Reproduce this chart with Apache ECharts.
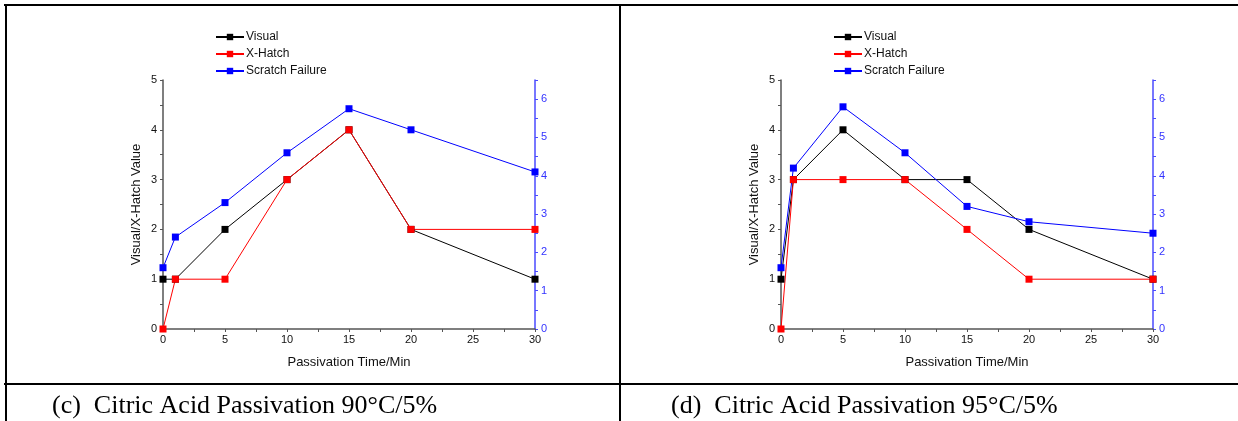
<!DOCTYPE html>
<html>
<head>
<meta charset="utf-8">
<script src="https://cdn.jsdelivr.net/npm/echarts@6/dist/echarts.min.js"></script>
<style>
  html, body { margin: 0; padding: 0; background: #fff; }
  #main { width: 1238px; height: 421px; }
</style>
</head>
<body>
<div id="main"></div>
<script>
// passivation time (min), shared by both panels
const times = [0, 1, 5, 10, 15, 20, 30];

// (c) 90°C/5%
const visualC = [1, 1, 2, 3, 4, 2, 1];
const hatchC = [0, 1, 1, 3, 4, 2, 2];
const scratchC = [1.6, 2.4, 3.3, 4.6, 5.75, 5.2, 4.1];

// (d) 95°C/5%
const visualD = [1, 3, 4, 3, 3, 2, 1];
const hatchD = [0, 3, 3, 3, 2, 1, 1];
const scratchD = [1.6, 4.2, 5.8, 4.6, 3.2, 2.8, 2.5];

const captions = ['(c)  Citric Acid Passivation 90°C/5%', '(d)  Citric Acid Passivation 95°C/5%'];
const seriesNames = ['Visual', 'X-Hatch', 'Scratch Failure'];

const sans = 'Liberation Sans';
const pairs = (ys) => times.map((t, i) => [t, ys[i]]);

const chart = echarts.init(document.getElementById('main'));

// one panel = grid + x axis + two y axes + legend
const panels = [
  { left: 163, data: [visualC, hatchC, scratchC] },
  { left: 781, data: [visualD, hatchD, scratchD] }
];

const grids = [], xAxes = [], yAxes = [], series = [], legends = [], titles = [];

panels.forEach((p, k) => {
  grids.push({ left: p.left, width: 372, top: 80, height: 249 });
  xAxes.push({
    type: 'value', gridIndex: k, min: 0, max: 30, interval: 2.5,
    name: 'Passivation Time/Min', nameLocation: 'middle', nameGap: 27,
    nameTextStyle: { fontFamily: sans, fontSize: 13, color: '#111' },
    axisLine: { onZero: false, lineStyle: { color: '#555', width: 1.5 } },
    axisTick: { inside: false, length: 3, lineStyle: { color: '#555' } },
    axisLabel: {
      fontFamily: sans, fontSize: 11, color: '#111', margin: 5,
      formatter: v => (v % 5 === 0 ? String(v) : '')
    },
    splitLine: { show: false }
  });
  yAxes.push({
    type: 'value', gridIndex: k, position: 'left', min: 0, max: 5, interval: 0.5,
    name: 'Visual/X-Hatch Value', nameLocation: 'middle', nameGap: 20,
    nameTextStyle: { fontFamily: sans, fontSize: 13, color: '#111' },
    axisLine: { show: true, lineStyle: { color: '#555', width: 1.5 } },
    axisTick: { show: true, length: 3, lineStyle: { color: '#555' } },
    axisLabel: {
      fontFamily: sans, fontSize: 11, color: '#111', margin: 6,
      formatter: v => (v % 1 === 0 ? String(v) : '')
    },
    splitLine: { show: false }
  });
  yAxes.push({
    type: 'value', gridIndex: k, position: 'right', min: 0, max: 6.5, interval: 0.5,
    axisLine: { show: true, lineStyle: { color: '#4a4aff', width: 1.5 } },
    axisTick: { show: true, length: 3, lineStyle: { color: '#4a4aff' } },
    axisLabel: {
      fontFamily: sans, fontSize: 11, color: '#3333ff', margin: 6,
      formatter: v => (v % 1 === 0 ? String(v) : '')
    },
    splitLine: { show: false }
  });

  const colors = ['#000000', '#ff0000', '#0000ff'];
  p.data.forEach((ys, j) => {
    series.push({
      name: seriesNames[j], type: 'line',
      xAxisIndex: k, yAxisIndex: j === 2 ? k * 2 + 1 : k * 2,
      data: pairs(ys),
      symbol: 'rect', symbolSize: 7, showAllSymbol: true,
      lineStyle: { color: colors[j], width: 1 },
      itemStyle: { color: colors[j] },
      emphasis: { disabled: true },
      animation: false
    });
  });

  legends.push({
    orient: 'vertical', left: p.left + 47, top: 26,
    itemWidth: 28, itemHeight: 8, itemGap: 5,
    data: seriesNames.map(n => ({ name: n })),
    textStyle: { fontFamily: sans, fontSize: 12, color: '#111', padding: [0, 0, 0, -3] },
    selectedMode: false
  });

  titles.push({
    text: captions[k], left: k === 0 ? 47 : 666, top: 388,
    textStyle: { fontFamily: 'Liberation Serif', fontSize: 26, fontWeight: 'normal', color: '#000' }
  });
});

chart.setOption({
  animation: false,
  title: titles,
  grid: grids,
  xAxis: xAxes,
  yAxis: yAxes,
  legend: legends,
  series: series,
  graphic: [
    { type: 'rect', shape: { x: 4, y: 4, width: 1236, height: 2 }, style: { fill: '#000' } },
    { type: 'rect', shape: { x: 5, y: 4, width: 2, height: 417 }, style: { fill: '#000' } },
    { type: 'rect', shape: { x: 619, y: 4, width: 2, height: 417 }, style: { fill: '#000' } },
    { type: 'rect', shape: { x: 4, y: 383, width: 1236, height: 2 }, style: { fill: '#000' } }
  ]
});
</script>
</body>
</html>
